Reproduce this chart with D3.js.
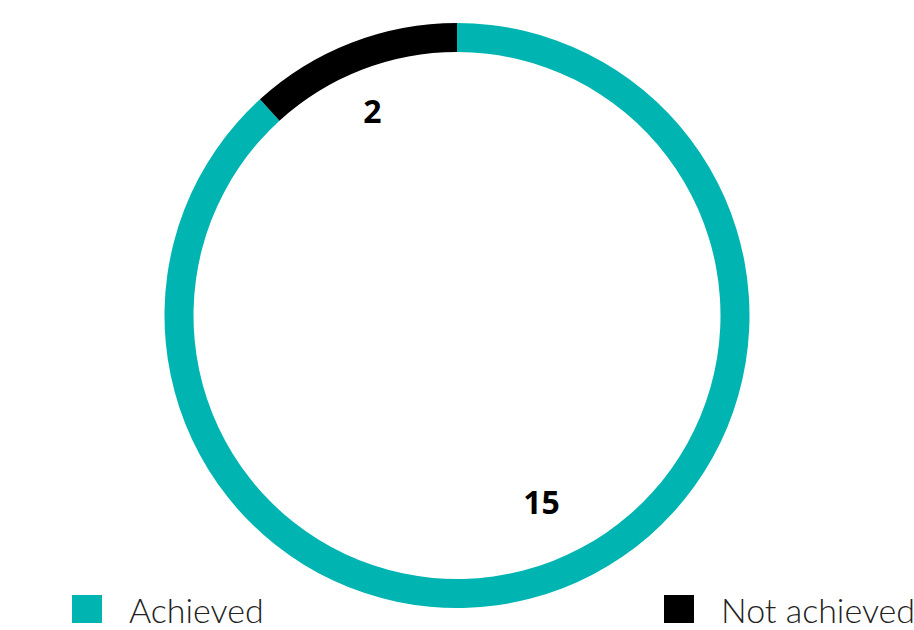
<!DOCTYPE html>
<html>
<head>
<meta charset="utf-8">
<script src="https://cdn.jsdelivr.net/npm/d3@7"></script>
<style>
  body { margin: 0; background: #fff; overflow: hidden; }
  svg { display: block; }
</style>
</head>
<body>
<div id="chart"></div>
<script>
const categories = ["Achieved", "Not achieved"];
const values = [15, 2];
const colors = ["#00b5b1", "#000000"];

const width = 914,
    height = 630,
    cx = 457,
    cy = 315.5,
    outerR = 292.5,
    innerR = 263.5,
    labelR = 213,
    labelShift = -2.2 * Math.PI / 180;

const svg = d3.select('#chart').append('svg')
    .attr('width', width)
    .attr('height', height);

const pie = d3.pie().sort(null).value(d => d.value);
const data = categories.map((c, i) => ({ name: c, value: values[i], color: colors[i] }));
const arcs = pie(data);

const arc = d3.arc().innerRadius(innerR).outerRadius(outerR);
const labelArc = d3.arc().innerRadius(labelR).outerRadius(labelR)
    .startAngle(d => d.startAngle + labelShift)
    .endAngle(d => d.endAngle + labelShift);

const g = svg.append('g')
    .attr('transform', 'translate(' + cx + ',' + cy + ')');

g.selectAll('path')
    .data(arcs)
    .enter()
    .append('path')
    .attr('d', arc)
    .attr('fill', d => d.data.color);

g.selectAll('text')
    .data(arcs)
    .enter()
    .append('text')
    .attr('transform', d => 'translate(' + labelArc.centroid(d) + ')')
    .attr('text-anchor', 'middle')
    .attr('dy', '0.1em')
    .style('font-family', '"Open Sans", sans-serif')
    .style('font-weight', 'bold')
    .style('font-size', '32px')
    .text(d => d.data.value);

// legend
const legendX = [72, 664];
const legend = svg.selectAll('.legend')
    .data(data)
    .enter()
    .append('g')
    .attr('class', 'legend')
    .attr('transform', (d, i) => 'translate(' + legendX[i] + ',595)');

legend.append('rect')
    .attr('width', 30)
    .attr('height', 28)
    .attr('fill', d => d.color);

legend.append('text')
    .attr('x', 57)
    .attr('y', 28)
    .style('font-family', 'Lato, sans-serif')
    .style('font-weight', 300)
    .style('font-size', '34px')
    .style('fill', '#222')
    .text(d => d.name);
</script>
</body>
</html>
